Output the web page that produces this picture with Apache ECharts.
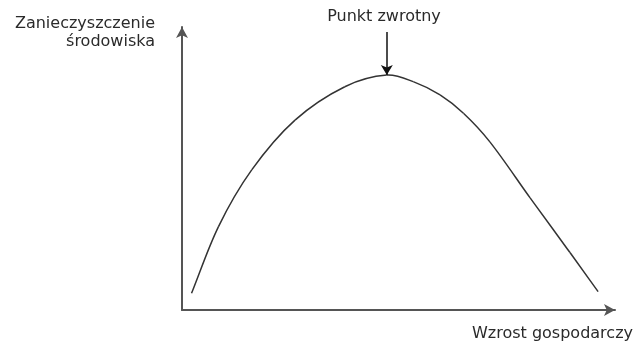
<!DOCTYPE html>
<html>
<head>
<meta charset="utf-8">
<script src="https://cdn.jsdelivr.net/npm/echarts@6/dist/echarts.min.js"></script>
<style>
  html, body { margin: 0; padding: 0; background: #fff; }
  #chart { width: 634px; height: 344px; }
</style>
</head>
<body>
<div id="chart"></div>
<script>
// krzywa Kuznetsa - wartosci (skala 0-100)
var growth = [2.2, 8.4, 16.1, 26.1, 37.6, 47.3, 53.4, 59.6, 65.0, 71.1, 80.4, 89.6, 96.1];
var pollution = [5.9, 29.4, 49.5, 67.1, 78.9, 83.0, 80.7, 76.0, 69.5, 59.4, 39.6, 20.3, 6.5];
var turningPoint = [47.3, 83.0];
var turningLabelY = 98.2;

var yName = 'Zanieczyszczenie\nśrodowiska';
var xName = 'Wzrost gospodarczy';
var peakName = 'Punkt zwrotny';

var curve = growth.map(function (g, i) { return [g, pollution[i]]; });

var myChart = echarts.init(document.getElementById('chart'));

var axisCommon = {
  type: 'value',
  min: 0,
  max: 100,
  axisLine: {
    show: true,
    symbol: ['none', 'arrow'],
    symbolSize: [9, 11],
    lineStyle: { color: '#555', width: 2 }
  },
  axisTick: { show: false },
  axisLabel: { show: false },
  splitLine: { show: false }
};

var labelFont = '16px "DejaVu Sans"';

function unit(a, b) {
  var dx = b[0] - a[0], dy = b[1] - a[1];
  var l = Math.sqrt(dx * dx + dy * dy) || 1;
  return [dx / l, dy / l];
}

// gladki odcinek miedzy punktami i oraz i+1
function renderSegment(params, api) {
  var i = params.dataIndex;
  var n = curve.length;
  if (i >= n - 1) return null;
  var p0 = api.coord(curve[Math.max(i - 1, 0)]);
  var p1 = api.coord(curve[i]);
  var p2 = api.coord(curve[i + 1]);
  var p3 = api.coord(curve[Math.min(i + 2, n - 1)]);
  var d = Math.sqrt(Math.pow(p2[0] - p1[0], 2) + Math.pow(p2[1] - p1[1], 2)) / 3;
  var t1 = unit(p0, p2);
  var t2 = unit(p1, p3);
  return {
    type: 'bezierCurve',
    shape: {
      x1: p1[0], y1: p1[1],
      x2: p2[0], y2: p2[1],
      cpx1: p1[0] + t1[0] * d,
      cpy1: p1[1] + t1[1] * d,
      cpx2: p2[0] - t2[0] * d,
      cpy2: p2[1] - t2[1] * d
    },
    style: { stroke: '#333', lineWidth: 1.5, fill: null }
  };
}

myChart.setOption({
  animation: false,
  grid: { left: 182, right: 19, top: 27, bottom: 34 },
  xAxis: axisCommon,
  yAxis: axisCommon,
  graphic: [
    {
      type: 'text',
      x: 155,
      y: 15,
      style: {
        text: yName,
        font: labelFont,
        fill: '#2a2a2a',
        align: 'right',
        lineHeight: 18
      }
    },
    {
      type: 'text',
      x: 384,
      y: 9,
      style: { text: peakName, font: labelFont, fill: '#2a2a2a', align: 'center' }
    },
    {
      type: 'text',
      x: 633,
      y: 326,
      style: { text: xName, font: labelFont, fill: '#2a2a2a', align: 'right' }
    }
  ],
  series: [
    {
      type: 'custom',
      data: curve,
      renderItem: renderSegment,
      silent: true
    },
    {
      type: 'line',
      data: [],
      showSymbol: false,
      markLine: {
        silent: true,
        symbol: ['none', 'arrow'],
        symbolSize: [9, 10],
        label: { show: false },
        lineStyle: { color: '#111', width: 1.5, type: 'solid' },
        data: [[
          { coord: [turningPoint[0], turningLabelY] },
          { coord: turningPoint }
        ]]
      }
    }
  ]
});
</script>
</body>
</html>
